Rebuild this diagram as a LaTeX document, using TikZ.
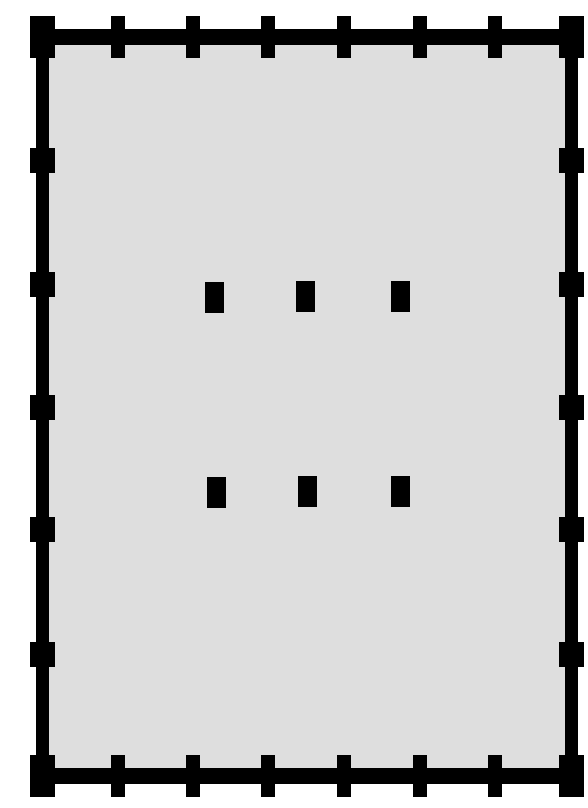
\documentclass[tikz,border=0pt]{standalone}
\usetikzlibrary{positioning}

\tikzset{
  pin/.style={rectangle, fill=black, inner sep=0pt},
  corner/.style={pin, minimum width=25pt, minimum height=42pt},
  hpin/.style={pin, minimum width=14pt, minimum height=42pt},
  vpin/.style={pin, minimum width=25pt, minimum height=25pt},
  dot/.style={pin, minimum width=19pt, minimum height=31pt}
}

\begin{document}
\begin{tikzpicture}[x=1pt, y=-1pt]
  \useasboundingbox (0,0) rectangle (587,808);
  \coordinate (TL) at (42,37);
  \coordinate (TR) at (571,37);
  \coordinate (BR) at (571,776);
  \coordinate (BL) at (42,776);
  \fill[black!13] (TL) rectangle (BR);
  \draw[line width=16pt] (TL) -- (TR) (BL) -- (BR);
  \draw[line width=13pt] (TL) -- (BL) (TR) -- (BR);
  % corners
  \foreach \c in {TL,TR,BR,BL}
    \node[corner] (k\c) at (\c) {};
  % top and bottom edges
  \foreach \x [count=\i] in {118,193,268,344,420,495} {
    \node[hpin] (t\i) at (\x,37) {};
    \node[hpin] (b\i) at (\x,776) {};
  }
  % left and right edges
  \foreach \y [count=\i] in {160,284,407,529,654} {
    \node[vpin] (l\i) at (42,\y) {};
    \node[vpin] (r\i) at (571,\y) {};
  }
  % inner points
  \foreach \x/\y [count=\i] in {214/297,305/296,400/296,216/492,307/491,400/491}
    \node[dot] (d\i) at (\x,\y) {};
\end{tikzpicture}
\end{document}
